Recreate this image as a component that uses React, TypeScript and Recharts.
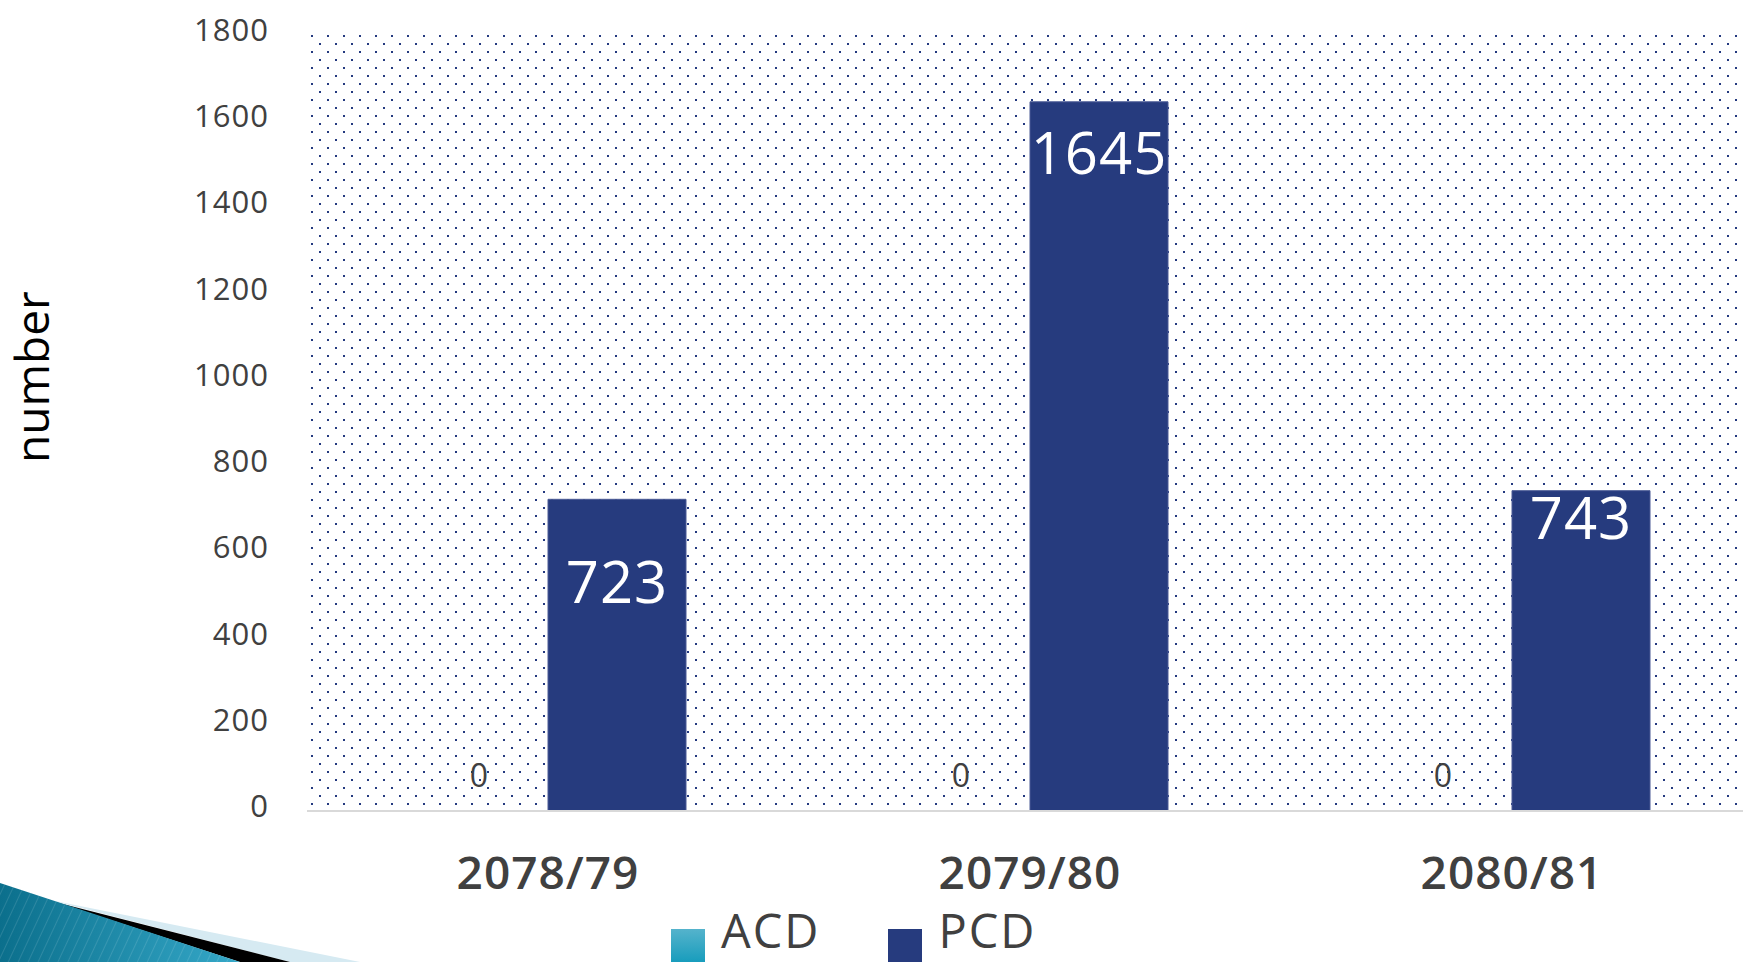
import React from 'react';
import { BarChart, Bar, XAxis, YAxis, CartesianGrid, Legend, LabelList } from 'recharts';

const categories = ['2078/79', '2079/80', '2080/81'];
const acdValues = [0, 0, 0];
const pcdValues = [723, 1645, 743];
const seriesNames = ['ACD', 'PCD'];
const yTicks = [0, 200, 400, 600, 800, 1000, 1200, 1400, 1600, 1800];
const yAxisTitle = 'number';

const data = categories.map((c, i) => ({
  category: c,
  [seriesNames[0]]: acdValues[i],
  [seriesNames[1]]: pcdValues[i],
}));

const FONT = '"Open Sans", "Noto Sans", sans-serif';
const NAVY = '#263B7E';
const PCD_LABEL_CAP_OFFSET = [63, 31, 7];

// PCD value label inside the bar; the zero-height ACD bar that sits directly to the
// left (barGap 0, equal bar sizes) gets its value label drawn above the baseline here,
// since a bar of height 0 is not handed to its own LabelList.
const PcdLabel = (props: any) => {
  const { x, y, width, height, value, index } = props;
  const off = PCD_LABEL_CAP_OFFSET[index] ?? 30;
  const baseline = y + height;
  return (
    <g>
      <text
        x={x + width / 2}
        y={y + off + 41}
        textAnchor="middle"
        fill="#ffffff"
        fontSize={58}
        fontFamily={FONT}
        letterSpacing={1}
      >
        {value}
      </text>
      <text
        x={x - width / 2}
        y={baseline - 24}
        textAnchor="middle"
        fill="#404040"
        fontSize={32}
        fontFamily={FONT}
      >
        {acdValues[index]}
      </text>
    </g>
  );
};

const LegendContent = (props: any) => {
  const { payload } = props;
  return (
    <div style={{ display: 'flex', alignItems: 'flex-start', height: 42, fontFamily: FONT }}>
      {(payload || []).map((p: any, i: number) => (
        <div key={i} style={{ display: 'flex', alignItems: 'flex-start', marginRight: i === 0 ? 68 : 0 }}>
          <svg width={34} height={34} style={{ marginTop: 9, display: 'block' }}>
            <rect x={0} y={0} width={34} height={34} fill={i === 0 ? 'url(#acdGrad)' : NAVY} />
          </svg>
          <span
            style={{
              marginLeft: 16,
              fontSize: 47,
              lineHeight: '30px',
              height: 30,
              color: '#404040',
              marginTop: -5,
              letterSpacing: 2,
              whiteSpace: 'nowrap',
            }}
          >
            {p.value}
          </span>
        </div>
      ))}
    </div>
  );
};

const YTitle = (props: any) => {
  const { viewBox } = props;
  const cx = 31;
  const cy = viewBox.y + viewBox.height / 2 - 46;
  return (
    <text
      x={cx}
      y={cy}
      transform={`rotate(-90 ${cx} ${cy})`}
      textAnchor="middle"
      dominantBaseline="central"
      fontSize={46}
      fontFamily={FONT}
      fill="#000000"
    >
      {yAxisTitle}
    </text>
  );
};

export default function App() {
  return (
    <div
      style={{
        position: 'absolute',
        left: 0,
        top: 0,
        width: 1743,
        height: 962,
        overflow: 'hidden',
        background: '#ffffff',
      }}
    >
      <BarChart
        width={1753}
        height={962}
        data={data}
        margin={{ top: 35, right: 0, bottom: 0, left: 0 }}
        barGap={0}
        barSize={138}
      >
        <defs>
          <pattern id="dots" patternUnits="userSpaceOnUse" x={311} y={35} width={16} height={16}>
            <rect x={0} y={0} width={2} height={2} fill="#24397F" />
            <rect x={8} y={8} width={2} height={2} fill="#24397F" />
          </pattern>
          <linearGradient id="acdGrad" x1="0" y1="0" x2="0" y2="1">
            <stop offset="0%" stopColor="#55B3CC" />
            <stop offset="100%" stopColor="#169CBC" />
          </linearGradient>
        </defs>
        <CartesianGrid horizontal={false} vertical={false} fill="url(#dots)" />
        <XAxis
          dataKey="category"
          height={109}
          tickSize={0}
          tickMargin={45}
          axisLine={{ stroke: '#D9D9D9', strokeWidth: 2 }}
          tickLine={false}
          tick={{ fontSize: 46, fill: '#404040', fontFamily: FONT, fontWeight: 600, letterSpacing: 1 }}
        />
        <YAxis
          width={307}
          domain={[0, 1800]}
          ticks={yTicks}
          tickSize={0}
          tickMargin={38}
          axisLine={false}
          tickLine={false}
          interval={0}
          tick={{ fontSize: 31, fill: '#404040', fontFamily: FONT, dy: -5, letterSpacing: 1 }}
          label={<YTitle />}
        />
        <Legend verticalAlign="bottom" content={<LegendContent />} wrapperStyle={{ left: 671, width: 500, height: 42 }} />
        <Bar dataKey={seriesNames[0]} fill="url(#acdGrad)" isAnimationActive={false} />
        <Bar dataKey={seriesNames[1]} fill={NAVY} stroke="#4A5B95" strokeWidth={1} isAnimationActive={false}>
          <LabelList dataKey={seriesNames[1]} content={<PcdLabel />} />
        </Bar>
      </BarChart>
      <svg
        width={400}
        height={90}
        style={{ position: 'absolute', left: 0, top: 872, display: 'block' }}
      >
        <defs>
          <linearGradient id="tealGrad" x1="0" y1="0" x2="1" y2="0">
            <stop offset="0%" stopColor="#0B6F8C" />
            <stop offset="100%" stopColor="#35A8C8" />
          </linearGradient>
          <pattern id="stripes" patternUnits="userSpaceOnUse" width={9} height={9} patternTransform="rotate(25)">
            <line x1={0} y1={0} x2={0} y2={9} stroke="rgba(255,255,255,0.12)" strokeWidth={2} />
          </pattern>
        </defs>
        <polygon points="50,28 360,90 290,90" fill="#D6EAF2" />
        <polygon points="55,30 290,90 240,90" fill="#000000" />
        <polygon points="0,11 240,90 0,90" fill="url(#tealGrad)" />
        <polygon points="0,11 240,90 0,90" fill="url(#stripes)" />
      </svg>
    </div>
  );
}
